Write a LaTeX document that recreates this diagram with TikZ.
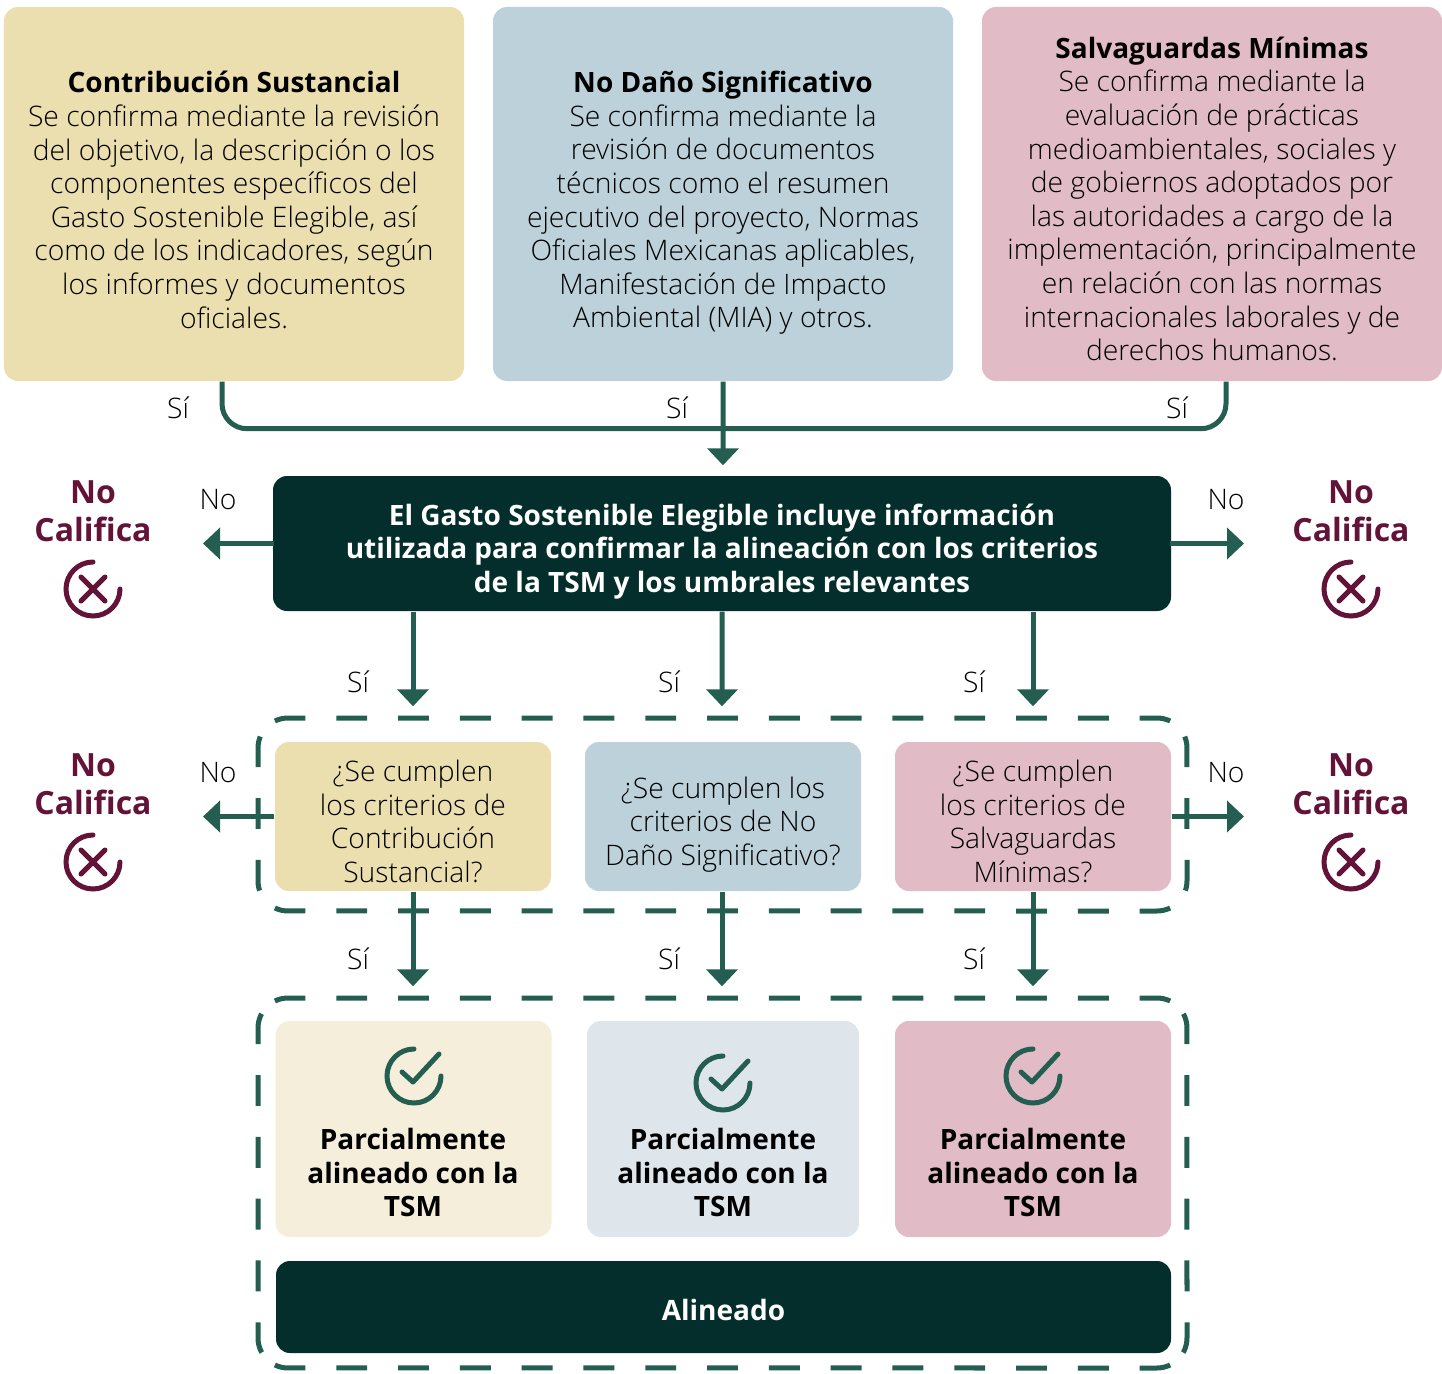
\documentclass[tikz,border=0pt]{standalone}
\usepackage{fontspec}
\setmainfont{Open Sans}[UprightFont=* Light, BoldFont=* Bold]
\usetikzlibrary{arrows.meta}
\definecolor{sandfill}{HTML}{EBDFB0}
\definecolor{bluefill}{HTML}{BCD1D9}
\definecolor{rosefill}{HTML}{E1BBC6}
\definecolor{palesand}{HTML}{F4EEDA}
\definecolor{paleblue}{HTML}{DEE6EC}
\definecolor{darkfill}{HTML}{032E2B}
\definecolor{linegreen}{HTML}{235E50}
\definecolor{winered}{HTML}{621337}
\newcommand{\headtext}[1]{{\fontsize{7.97}{9.56}\selectfont\textbf{#1}}}
\begin{document}
\begin{tikzpicture}[
    every node/.style={align=center, inner sep=0pt, text=black, font=\fontsize{8.04}{9.56}\selectfont},
    box/.style={rounded corners=0.14cm, minimum width=#1},
    box/.default=4.6cm,
    top box/.style={box, minimum height=3.74cm},
    ask box/.style={box=2.76cm, minimum height=1.49cm},
    end box/.style={box=2.76cm, minimum height=2.16cm},
    dark box/.style={box=8.98cm, fill=darkfill},
    strong label/.style={font=\fontsize{7.97}{9.56}\selectfont\bfseries},
    dark label/.style={strong label, text=white},
    fail label/.style={text=winered, font=\fontsize{9.1}{10.7}\selectfont\bfseries},
    arrow line/.style={draw=linegreen, line width=0.05cm, -{Triangle[length=0.17cm,width=0.31cm]}},
    plain line/.style={draw=linegreen, line width=0.05cm},
    frame line/.style={draw=linegreen, line width=0.05cm, dash pattern=on 0.309cm off 0.309cm},
    cross mark/.pic={
        \draw[winered, line width=0.05cm, line cap=round] (0.27,0) arc[start angle=0, end angle=-270, radius=0.27];
        \draw[winered, line width=0.05cm, line cap=round] (-0.12,0.12) -- (0.12,-0.12) (-0.12,-0.12) -- (0.12,0.12);
    },
    check mark/.pic={
        \draw[linegreen, line width=0.05cm, line cap=round] (0.27,0) arc[start angle=0, end angle=-270, radius=0.27];
        \draw[linegreen, line width=0.05cm, line cap=round, line join=round] (-0.12,0.04) -- (-0.01,-0.06) -- (0.25,0.22);
    },
    ]
\useasboundingbox (0,0) rectangle (14.42,-13.74);
% top row
\node[top box, fill=sandfill] (contrib) at (2.34,-1.94) {};
\node[top box, fill=bluefill] (harm) at (7.23,-1.94) {};
\node[top box, fill=rosefill] (safe) at (12.12,-1.94) {};
\node (contribtext) at (2.34,-2.00) {\headtext{Contribución Sustancial}\\Se confirma mediante la revisión\\del objetivo, la descripción o los\\componentes específicos del\\Gasto Sostenible Elegible, así\\como de los indicadores, según\\los informes y documentos\\oficiales.};
\node (harmtext) at (7.23,-2.03) {\headtext{No Daño Significativo}\\Se confirma mediante la\\revisión de documentos\\técnicos como el resumen\\ejecutivo del proyecto, Normas\\Oficiales Mexicanas aplicables,\\Manifestación de Impacto\\Ambiental (MIA) y otros.};
\node (safetext) at (12.12,-1.99) {\headtext{Salvaguardas Mínimas}\\Se confirma mediante la\\evaluación de prácticas\\medioambientales, sociales y\\de gobiernos adoptados por\\las autoridades a cargo de la\\implementación, principalmente\\en relación con las normas\\internacionales laborales y de\\derechos humanos.};
% middle box
\node[dark box, minimum height=1.35cm] (gasto) at (7.22,-5.435) {};
\node[dark label] (gastotext) at (7.22,-5.515) {El Gasto Sostenible Elegible incluye información\\utilizada para confirmar la alineación con los criterios\\de la TSM y los umbrales relevantes};
% questions
\node[ask box, fill=sandfill] (askA) at (4.13,-8.165) {};
\node[ask box, fill=bluefill] (askB) at (7.23,-8.165) {};
\node[ask box, fill=rosefill] (askC) at (10.33,-8.165) {};
\node (askAtext) at (4.13,-8.215) {¿Se cumplen\\los criterios de\\Contribución\\Sustancial?};
\node (askBtext) at (7.23,-8.245) {¿Se cumplen los\\criterios de No\\Daño Significativo?};
\node (askCtext) at (10.33,-8.215) {¿Se cumplen\\los criterios de\\Salvaguardas\\Mínimas?};
% results
\node[end box, fill=palesand] (endA) at (4.135,-11.29) {};
\node[end box, fill=paleblue, minimum width=2.72cm] (endB) at (7.23,-11.29) {};
\node[end box, fill=rosefill] (endC) at (10.33,-11.29) {};
\node[strong label] (endAtext) at (4.13,-11.725) {Parcialmente\\alineado con la\\TSM};
\node[strong label] (endBtext) at (7.23,-11.725) {Parcialmente\\alineado con la\\TSM};
\node[strong label] (endCtext) at (10.33,-11.725) {Parcialmente\\alineado con la\\TSM};
\node[dark box, minimum width=8.95cm, minimum height=0.92cm] (aligned) at (7.235,-13.07) {};
\node[dark label] (alignedtext) at (7.235,-13.10) {Alineado};
\pic at (4.14,-10.76) {check mark};
\pic at (7.23,-10.83) {check mark};
\pic at (10.33,-10.76) {check mark};
% fail marks
\node[fail label] (failA) at (0.93,-5.11) {No\\Califica};
\node[fail label] (failB) at (13.51,-5.11) {No\\Califica};
\node[fail label] (failC) at (0.93,-7.84) {No\\Califica};
\node[fail label] (failD) at (13.51,-7.84) {No\\Califica};
\pic at (0.93,-5.89) {cross mark};
\pic at (13.51,-5.89) {cross mark};
\pic at (0.93,-8.62) {cross mark};
\pic at (13.51,-8.62) {cross mark};
% dashed frames
\foreach \ytop/\ybot/\vphase in {7.18/9.11/0.50, 9.98/13.68/0.53} {
    \path[frame line, dash phase=0.518cm] (2.668,-\ytop-0.088) arc[start angle=135, end angle=90, radius=0.3] -- (11.57,-\ytop) arc[start angle=90, end angle=45, radius=0.3];
    \path[frame line, dash phase=0.518cm] (2.668,-\ybot+0.088) arc[start angle=225, end angle=270, radius=0.3] -- (11.57,-\ybot) arc[start angle=270, end angle=315, radius=0.3];
    \path[frame line, dash phase=\vphase cm] (2.668,-\ytop-0.088) arc[start angle=135, end angle=180, radius=0.3] -- (2.58,-\ybot+0.3) arc[start angle=180, end angle=225, radius=0.3];
    \path[frame line, dash phase=\vphase cm] (11.782,-\ytop-0.088) arc[start angle=45, end angle=0, radius=0.3] -- (11.87,-\ybot+0.3) arc[start angle=0, end angle=-45, radius=0.3];
}
% connectors top
\draw[plain line, rounded corners=0.25cm] ([xshift=-0.12cm]contrib.south) -- ++(0,-0.47) -| ([xshift=0.14cm]safe.south);
\draw[arrow line] (harm.south) -- ([xshift=0.01cm,yshift=0.10cm]gasto.north);
\coordinate (tipGL) at (2.03,-5.435);
\coordinate (tipGR) at (12.44,-5.435);
\coordinate (tipAL) at (2.03,-8.165);
\coordinate (tipCR) at (12.44,-8.165);
\draw[arrow line] ([xshift=0.02cm]gasto.west) -- (tipGL);
\draw[arrow line] ([xshift=-0.02cm]gasto.east) -- (tipGR);
\draw[arrow line] (askA.west) -- (tipAL);
\draw[arrow line] (askC.east) -- (tipCR);
\draw[arrow line] (gasto.south -| askA.north) -- ([yshift=0.35cm]askA.north);
\draw[arrow line] (gasto.south) -- ([xshift=-0.01cm,yshift=0.35cm]askB.north);
\draw[arrow line] (gasto.south -| askC.north) -- ([yshift=0.35cm]askC.north);
\draw[arrow line] (askA.south) -- ([yshift=0.34cm]endA.north -| askA.south);
\draw[arrow line] ([xshift=-0.01cm]askB.south) -- ([xshift=-0.01cm,yshift=0.34cm]endB.north);
\draw[arrow line] (askC.south) -- ([yshift=0.34cm]endC.north -| askC.south);
% labels
\node (si1) at (1.78,-4.08) {Sí};
\node (si2) at (6.77,-4.08) {Sí};
\node (si3) at (11.77,-4.08) {Sí};
\node (si4) at (3.58,-6.82) {Sí};
\node (si5) at (6.69,-6.82) {Sí};
\node (si6) at (9.74,-6.82) {Sí};
\node (si7) at (3.58,-9.59) {Sí};
\node (si8) at (6.69,-9.59) {Sí};
\node (si9) at (9.74,-9.59) {Sí};
\node (no1) at (2.18,-5.00) {No};
\node (no2) at (12.26,-5.00) {No};
\node (no3) at (2.18,-7.73) {No};
\node (no4) at (12.26,-7.73) {No};
\end{tikzpicture}
\end{document}
